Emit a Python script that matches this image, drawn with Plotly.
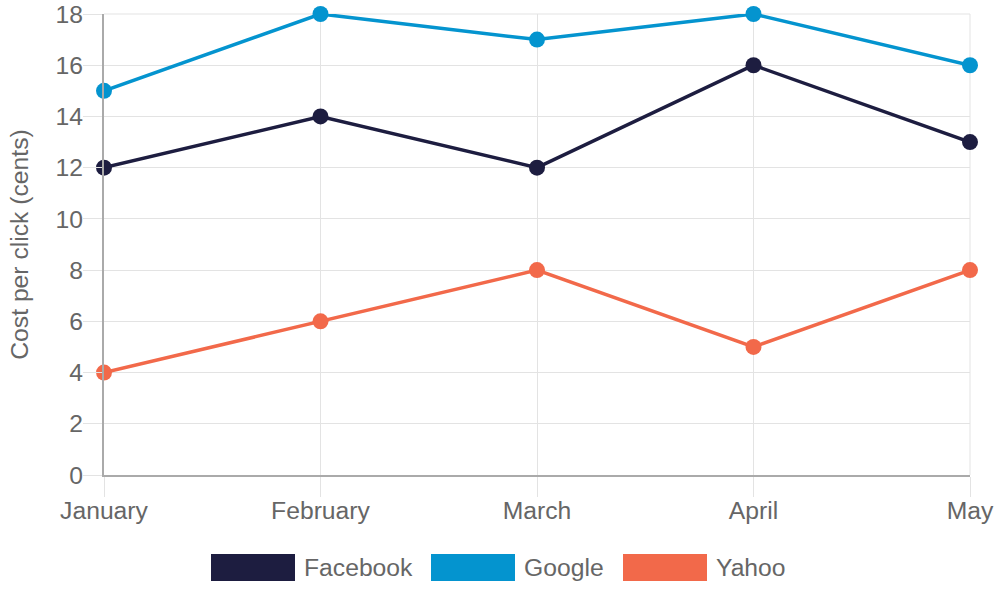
import plotly.graph_objects as go

months = ["January", "February", "March", "April", "May"]
series_names = ["Facebook", "Google", "Yahoo"]
facebook = [12, 14, 12, 16, 13]
google = [15, 18, 17, 18, 16]
yahoo = [4, 6, 8, 5, 8]
y_ticks = [0, 2, 4, 6, 8, 10, 12, 14, 16, 18]

colors = ["#1d1d40", "#0494cf", "#f2694a"]
values = [facebook, google, yahoo]

FONT = "Liberation Sans, Arial, sans-serif"
FS = 24.7
TXT = "#666666"
GRID = "#e3e3e3"
AXIS = "#aaaaaa"

fig = go.Figure()
for name, vals, col in zip(series_names, values, colors):
    fig.add_trace(go.Scatter(
        x=months, y=vals, name=name, mode="lines+markers",
        line=dict(color=col, width=3.5),
        marker=dict(color=col, size=16),
        cliponaxis=False, showlegend=False,
    ))

W, H = 1000, 600
L, R, T, B = 104, 30, 14, 125
pw, ph = W - L - R, H - T - B

def px2paper(px, py):
    return (px - L) / pw, (H - B - py) / ph

legend_x = [211, 431, 623]
shapes = []
annotations = []
for name, col, lx in zip(series_names, colors, legend_x):
    x0, y0 = px2paper(lx, 554)
    x1, y1 = px2paper(lx + 84, 581)
    shapes.append(dict(type="rect", xref="paper", yref="paper",
                       x0=x0, x1=x1, y0=y1, y1=y0,
                       fillcolor=col, line=dict(width=0)))
    tx, ty = px2paper(lx + 91, 567.5)
    annotations.append(dict(xref="paper", yref="paper", x=tx, y=ty,
                            text=name, showarrow=False, xanchor="left",
                            yanchor="middle",
                            font=dict(family=FONT, size=FS, color=TXT)))

shapes.append(dict(type="line", xref="paper", yref="paper", x0=0, x1=1, y0=1, y1=1,
                   line=dict(color=GRID, width=1), layer="below"))
shapes.append(dict(type="line", xref="paper", yref="paper", x0=1, x1=1, y0=0, y1=1,
                   line=dict(color=GRID, width=1), layer="below"))

fig.update_layout(
    width=W, height=H,
    margin=dict(l=L, r=R, t=T, b=B, autoexpand=False),
    paper_bgcolor="white", plot_bgcolor="white",
    font=dict(family=FONT, size=FS, color=TXT),
    shapes=shapes, annotations=annotations,
    xaxis=dict(
        type="category", range=[0, len(months) - 1],
        showgrid=True, gridcolor=GRID, gridwidth=1,
        showline=True, linecolor=AXIS, linewidth=2,
        ticks="outside", ticklen=20, tickcolor=GRID, tickwidth=1,
        ticklabelstandoff=-8, ticklabeloverflow="allow",
        tickfont=dict(family=FONT, size=FS, color=TXT),
        zeroline=False, automargin=False,
    ),
    yaxis=dict(
        range=[0, 18], tickvals=y_ticks,
        showgrid=True, gridcolor=GRID, gridwidth=1,
        showline=True, linecolor=AXIS, linewidth=2,
        ticks="outside", ticklen=19, tickcolor=GRID, tickwidth=1,
        ticklabelstandoff=-5, ticklabeloverflow="allow",
        tickfont=dict(family=FONT, size=FS, color=TXT),
        title=dict(text="Cost per click (cents)", standoff=20,
                   font=dict(family=FONT, size=FS, color=TXT)),
        zeroline=False, automargin=False,
    ),
)

fig.write_html("out.html", config={"displayModeBar": False},
               post_script="document.body.style.margin='0px';")
